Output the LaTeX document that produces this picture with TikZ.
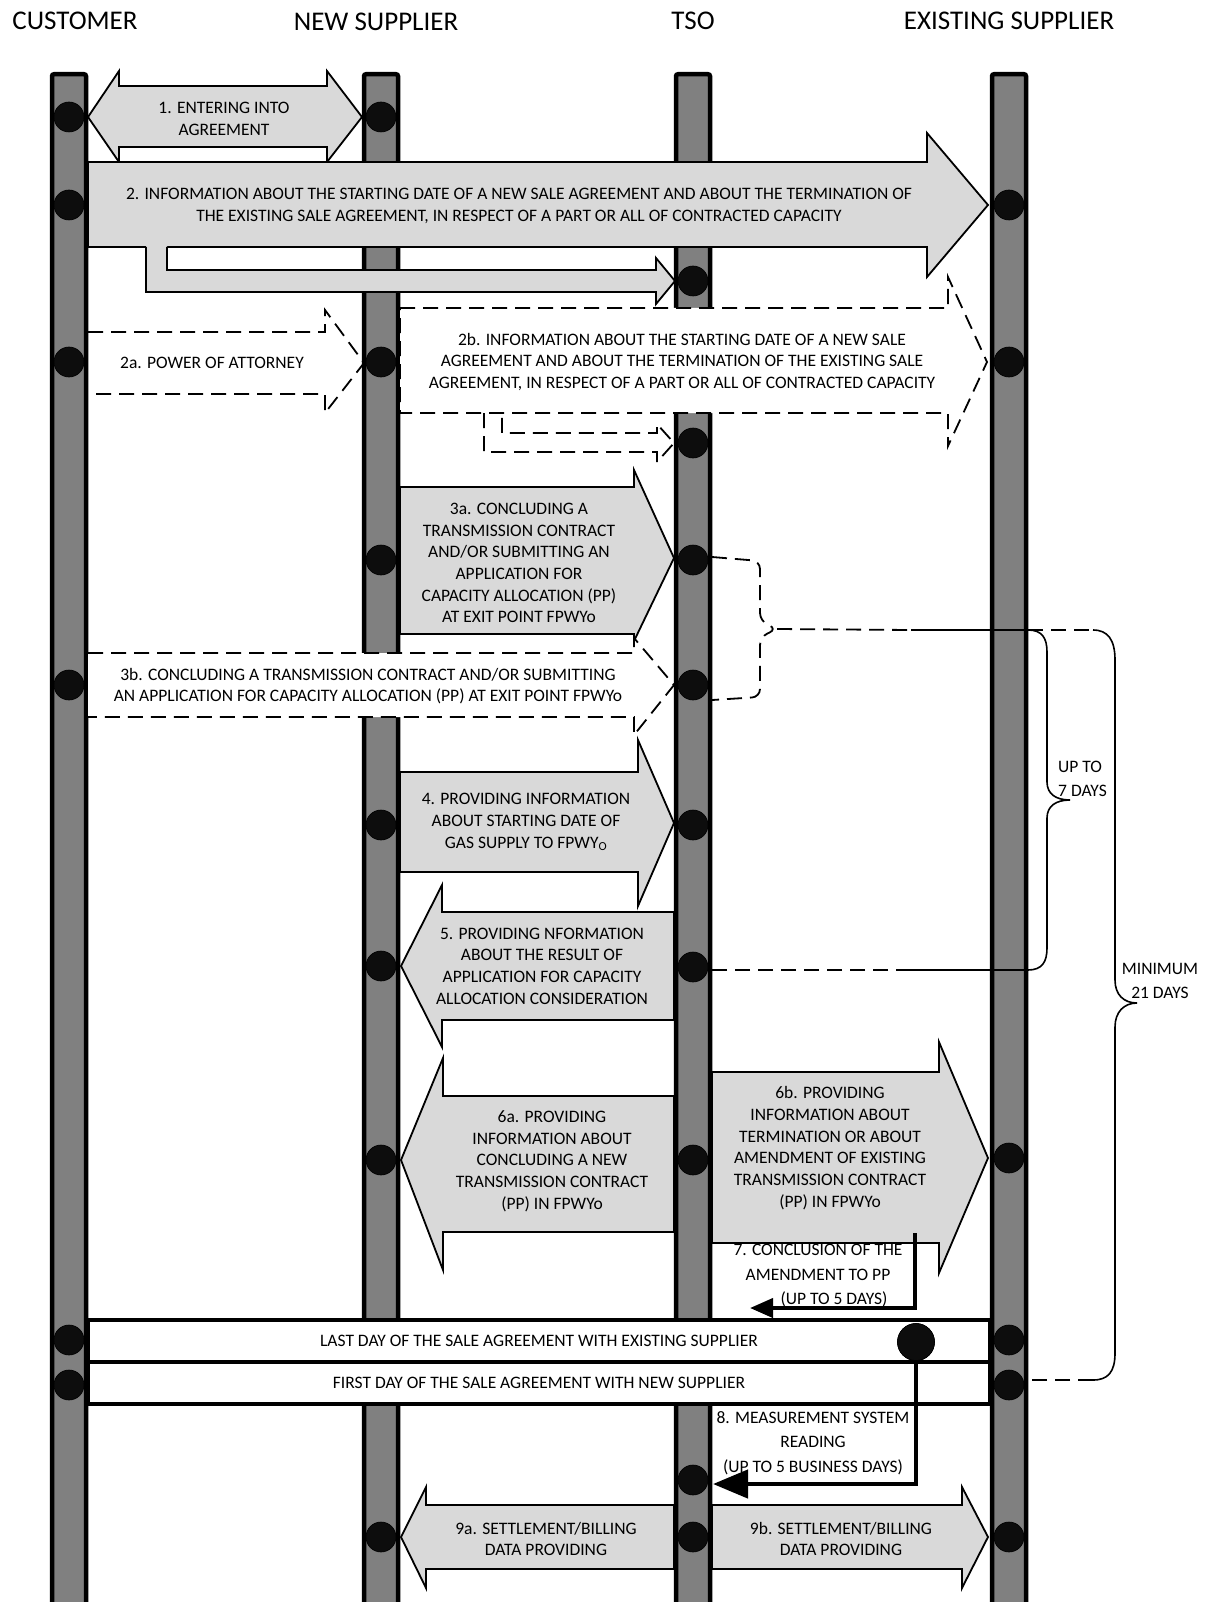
\documentclass[tikz,border=0pt]{standalone}
\usepackage{fontspec}
\setmainfont{Carlito}
\usepackage{xcolor}
\usetikzlibrary{arrows.meta}

\definecolor{lifegray}{HTML}{808080}
\definecolor{boxgray}{HTML}{D9D9D9}
\definecolor{dotblack}{HTML}{0D0D0D}
\newcommand{\bodysize}{\fontsize{17.5}{21.7}\selectfont}
\newcommand{\notesize}{\fontsize{17.5}{24.5}\selectfont}
\newcommand{\headsize}{\fontsize{27}{32}\selectfont}

\begin{document}
\begin{tikzpicture}[
  x=1pt, y=-1pt,
  lifeline/.style={draw, line width=4.5pt, fill=lifegray, rounded corners=2pt, minimum width=34pt, minimum height=1560pt, anchor=north, inner sep=0pt},
  dot/.style={circle, draw=black, line width=0.6pt, fill=dotblack, minimum size=30pt, inner sep=0pt},
  bigdot/.style={dot, minimum size=37pt},
  block/.style={draw, line width=1.8pt, fill=boxgray, line join=miter},
  dashline/.style={line width=1.8pt, dash pattern=on 15pt off 8pt},
  braceline/.style={line width=1.6pt},
  bar/.style={draw, line width=4.5pt, fill=white, minimum width=902pt, minimum height=42pt, inner sep=0pt, font=\bodysize},
  msg/.style={font=\bodysize, align=center, inner sep=0pt},
  note/.style={font=\notesize, align=center, inner sep=0pt},
  head/.style={font=\headsize, inner sep=0pt},
  arrowseven/.style={line width=4pt, -{Triangle[length=23pt, width=19pt]}},
  arroweight/.style={line width=4.5pt, -{Triangle[length=35pt, width=28pt]}}
]
\fill[white] (0,0) rectangle (1209,1602);
\useasboundingbox (0,0) rectangle (1209,1602);

% Headers
\node[head] (hcust) at (75,21) {CUSTOMER};
\node[head] (hnew) at (376,22) {NEW SUPPLIER};
\node[head] (htso) at (693,21) {TSO};
\node[head] (hexist) at (1009,21) {EXISTING SUPPLIER};

% Lifelines
\node[lifeline] (custline) at (69,72) {};
\node[lifeline] (newline) at (381,72) {};
\node[lifeline] (tsoline) at (693,72) {};
\node[lifeline] (exline) at (1009,72) {};

% Block arrows
\draw[block] (88,117) -- (119,71) -- (119,86) -- (327,86) -- (327,71) -- (362,117) -- (327,162) -- (327,147) -- (119,147) -- (119,162) -- cycle;
\draw[block] (88,162) -- (927,162) -- (927,133) -- (988,205) -- (927,277) -- (927,247) -- (88,247) -- cycle;
\fill[boxgray] (146,245) -- (146,292) -- (656,292) -- (656,304) -- (675,281) -- (656,258) -- (656,270) -- (167,270) -- (167,245) -- cycle;
\draw[line width=1.8pt] (146,247) -- (146,292) -- (656,292) -- (656,304) -- (675,281) -- (656,258) -- (656,270) -- (167,270) -- (167,247);

% Dashed arrows 2a / 2b
\draw[dashline] (88,332) -- (325,332) -- (325,310) -- (364,363) -- (325,413) -- (325,394) -- (96,394);
\fill[white] (400,308) -- (948,308) -- (948,277) -- (987,362) -- (948,446) -- (948,413) -- (400,413) -- cycle;
\draw[dashline] (400,308) -- (948,308) -- (948,277) -- (987,362) -- (948,446) -- (948,413) -- (400,413) -- cycle;
\draw[dashline] (484,413) -- (484,452) -- (657,452) -- (657,462) -- (674,443) -- (657,424) -- (657,433) -- (502,433) -- (502,413);

% 3a / 3b
\draw[block] (400,487) -- (634,487) -- (634,470) -- (674,558) -- (634,641) -- (634,634) -- (400,634) -- cycle;
\fill[white] (88,653) -- (634,653) -- (634,638) -- (674,685) -- (634,735) -- (634,717) -- (88,717) -- cycle;
\draw[dashline] (88,653) -- (634,653) -- (634,638) -- (674,685) -- (634,735) -- (634,717) -- (88,717);

% 4, 5, 6a, 6b, 9a, 9b
\draw[block] (400,772) -- (638,772) -- (638,740) -- (674,823) -- (638,906) -- (638,872) -- (400,872) -- cycle;
\draw[block] (674,912) -- (442,912) -- (442,885) -- (401,966) -- (442,1047) -- (442,1020) -- (674,1020) -- cycle;
\draw[block] (674,1096) -- (443,1096) -- (443,1058) -- (401,1160) -- (443,1270) -- (443,1232) -- (674,1232) -- cycle;
\draw[block] (712,1072) -- (939,1072) -- (939,1042) -- (988,1158) -- (939,1273) -- (939,1243) -- (712,1243) -- cycle;
\draw[block] (674,1505) -- (426,1505) -- (426,1487) -- (401,1537) -- (426,1588) -- (426,1569) -- (674,1569) -- cycle;
\draw[block] (712,1505) -- (962,1505) -- (962,1487) -- (988,1537) -- (962,1588) -- (962,1569) -- (712,1569) -- cycle;

% Bars
\node[bar] (lastday) at (539,1341) {LAST DAY OF THE SALE AGREEMENT WITH EXISTING SUPPLIER};
\node[bar] (firstday) at (539,1383) {FIRST DAY OF THE SALE AGREEMENT WITH NEW SUPPLIER};

% Texts
\node[msg] (t1) at (224,119) {1. ENTERING INTO\\AGREEMENT};
\node[msg] (t2) at (519,206) {2. INFORMATION ABOUT THE STARTING DATE OF A NEW SALE AGREEMENT AND ABOUT THE TERMINATION OF\\THE EXISTING SALE AGREEMENT, IN RESPECT OF A PART OR ALL OF CONTRACTED CAPACITY};
\node[msg] (t2a) at (212,363) {2a. POWER OF ATTORNEY};
\node[msg] (t2b) at (682,362) {2b. INFORMATION ABOUT THE STARTING DATE OF A NEW SALE\\AGREEMENT AND ABOUT THE TERMINATION OF THE EXISTING SALE\\AGREEMENT, IN RESPECT OF A PART OR ALL OF CONTRACTED CAPACITY};
\node[msg] (t3a) at (519,563) {3a. CONCLUDING A\\TRANSMISSION CONTRACT\\AND/OR SUBMITTING AN\\APPLICATION FOR\\CAPACITY ALLOCATION (PP)\\AT EXIT POINT FPWYo};
\node[msg] (t3b) at (368,686) {3b. CONCLUDING A TRANSMISSION CONTRACT AND/OR SUBMITTING\\AN APPLICATION FOR CAPACITY ALLOCATION (PP) AT EXIT POINT FPWYo};
\node[msg] (t4) at (526,822) {4. PROVIDING INFORMATION\\ABOUT STARTING DATE OF\\GAS SUPPLY TO FPWY\textsubscript{O}};
\node[msg] (t5) at (542,966) {5. PROVIDING NFORMATION\\ABOUT THE RESULT OF\\APPLICATION FOR CAPACITY\\ALLOCATION CONSIDERATION};
\node[msg] (t6a) at (552,1161) {6a. PROVIDING\\INFORMATION ABOUT\\CONCLUDING A NEW\\TRANSMISSION CONTRACT\\(PP) IN FPWYo};
\node[msg] (t6b) at (830,1148) {6b. PROVIDING\\INFORMATION ABOUT\\TERMINATION OR ABOUT\\AMENDMENT OF EXISTING\\TRANSMISSION CONTRACT\\(PP) IN FPWYo};
\node[note] (t7) at (818,1276) {7. CONCLUSION OF THE\\AMENDMENT TO PP\\\hspace*{32pt}(UP TO 5 DAYS)};
\node[note] (t8) at (813,1443) {8. MEASUREMENT SYSTEM\\READING\\(UP TO 5 BUSINESS DAYS)};
\node[msg] (t9a) at (546,1539) {9a. SETTLEMENT/BILLING\\DATA PROVIDING};
\node[msg] (t9b) at (841,1539) {9b. SETTLEMENT/BILLING\\DATA PROVIDING};
\node[note, align=left, anchor=west] (tweek) at (1058,779) {UP TO\\7 DAYS};
\node[note] (tmin) at (1160,981) {MINIMUM\\21 DAYS};

% Braces
\coordinate (jtip) at (777,629);
\coordinate (wtop) at (911,630);
\coordinate (wbot) at (911,970);
\coordinate (mtop) at (1093,630);
\coordinate (mbot) at (1093,1380);
\draw[dashline, rounded corners=8pt] (712,557) -- (760,561) -- (760,621) -- (jtip) -- (760,637) -- (760,697) -- (712,700);
\draw[dashline] (jtip) -- (wtop);
\draw[braceline] (wtop) -- (1028,630) .. controls (1042,630) and (1047,638) .. (1047,652) -- (1047,782) .. controls (1047,794) and (1056,800) .. (1070,800) .. controls (1056,800) and (1047,806) .. (1047,818) -- (1047,948) .. controls (1047,962) and (1042,970) .. (1028,970) -- (wbot);
\draw[dashline] (wbot) -- (712,970);
\draw[dashline] (1028,630) -- (mtop);
\draw[braceline] (mtop) .. controls (1108,630) and (1115,640) .. (1115,660) -- (1115,980) .. controls (1115,995) and (1124,1003) .. (1137,1003) .. controls (1124,1003) and (1115,1012) .. (1115,1027) -- (1115,1353) .. controls (1115,1372) and (1108,1380) .. (mbot);
\draw[dashline] (mbot) -- (1028,1380);

% Thick arrows 7 and 8
\node[bigdot] (bigdot) at (916,1342) {};
\coordinate (s7) at (915,1233);
\coordinate (e7) at (750,1308);
\coordinate (e8) at (713,1484);
\draw[arrowseven] (s7) |- (e7);
\draw[arroweight] (bigdot.center) |- (e8);
\node[bigdot] at (bigdot) {};

% Event dots
\foreach \y [count=\i] in {117,205,362,685,1340,1385}
  \node[dot] (cdot\i) at (69,\y) {};
\foreach \y [count=\i] in {117,362,560,825,966,1160,1537}
  \node[dot] (ndot\i) at (381,\y) {};
\foreach \y [count=\i] in {281,443,560,685,825,967,1160,1480,1537}
  \node[dot] (tdot\i) at (693,\y) {};
\foreach \y [count=\i] in {205,362,1158,1340,1385,1537}
  \node[dot] (edot\i) at (1009,\y) {};

\end{tikzpicture}
\end{document}
